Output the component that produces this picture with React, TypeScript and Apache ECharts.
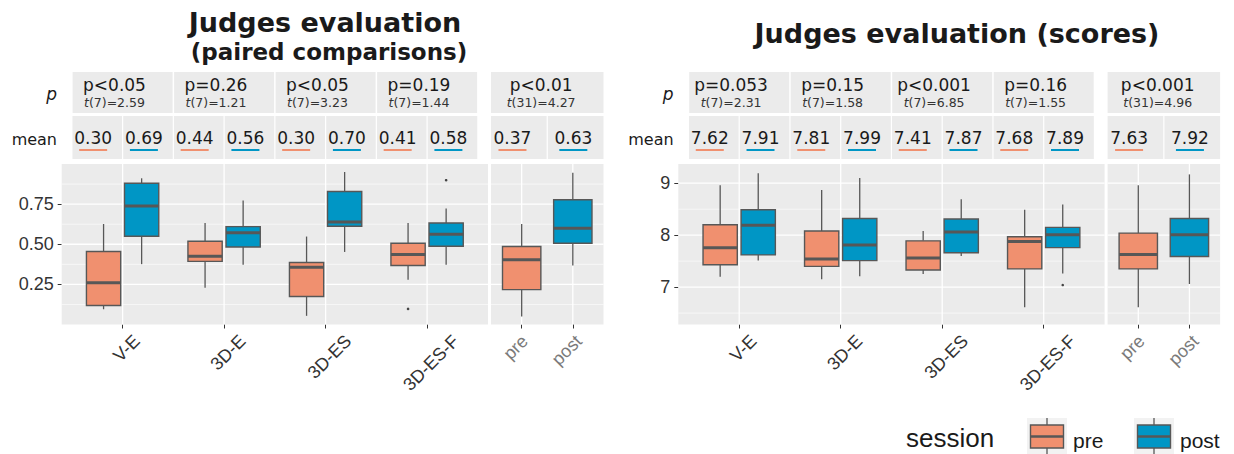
import React, { useEffect, useRef } from "react";
import * as echarts from "echarts";

// ---------------- data ----------------
const CATEGORIES = ["V-E", "3D-E", "3D-ES", "3D-ES-F"];
const SESSIONS = ["pre", "post"];
const SESSION_COLORS = ["#F0906F", "#0096C5"];

// five-number summaries: [lower whisker, Q1, median, Q3, upper whisker]
const PAIRED_PRE = [
  [0.095, 0.118, 0.26, 0.455, 0.626],
  [0.229, 0.393, 0.426, 0.519, 0.632],
  [0.054, 0.174, 0.357, 0.386, 0.548],
  [0.279, 0.368, 0.436, 0.506, 0.632],
];
const PAIRED_POST = [
  [0.376, 0.55, 0.738, 0.88, 0.911],
  [0.372, 0.483, 0.572, 0.61, 0.773],
  [0.452, 0.612, 0.638, 0.829, 0.95],
  [0.372, 0.488, 0.562, 0.632, 0.723],
];
const PAIRED_POOLED = [
  [0.05, 0.217, 0.403, 0.486, 0.626],
  [0.368, 0.506, 0.599, 0.777, 0.946],
];
const PAIRED_OUTLIERS: [string, string, number][] = [
  ["3D-ES-F", "pre", 0.097],
  ["3D-ES-F", "post", 0.899],
];
const PAIRED_P = ["p<0.05", "p=0.26", "p<0.05", "p=0.19"];
const PAIRED_T = ["t(7)=2.59", "t(7)=1.21", "t(7)=3.23", "t(7)=1.44"];
const PAIRED_POOLED_P = "p<0.01";
const PAIRED_POOLED_T = "t(31)=4.27";
const PAIRED_MEAN_PRE = [0.3, 0.44, 0.3, 0.41];
const PAIRED_MEAN_POST = [0.69, 0.56, 0.7, 0.58];
const PAIRED_POOLED_MEAN = [0.37, 0.63];
const PAIRED_Y_RANGE = [0, 1];
const PAIRED_BREAKS = [0.25, 0.5, 0.75];
const PAIRED_MINOR = [0.125, 0.375, 0.625, 0.875];

const SCORE_PRE = [
  [7.2, 7.43, 7.76, 8.2, 8.96],
  [7.15, 7.4, 7.54, 8.08, 8.87],
  [7.25, 7.33, 7.56, 7.89, 8.08],
  [6.61, 7.35, 7.88, 7.97, 8.49],
];
const SCORE_POST = [
  [7.51, 7.62, 8.19, 8.49, 9.19],
  [7.21, 7.51, 7.81, 8.32, 9.1],
  [7.6, 7.66, 8.06, 8.31, 8.69],
  [7.26, 7.76, 8.01, 8.15, 8.59],
];
const SCORE_POOLED = [
  [6.61, 7.35, 7.63, 8.04, 8.96],
  [7.06, 7.59, 8.01, 8.32, 9.17],
];
const SCORE_OUTLIERS: [string, string, number][] = [["3D-ES-F", "post", 7.04]];
const SCORE_P = ["p=0.053", "p=0.15", "p<0.001", "p=0.16"];
const SCORE_T = ["t(7)=2.31", "t(7)=1.58", "t(7)=6.85", "t(7)=1.55"];
const SCORE_POOLED_P = "p<0.001";
const SCORE_POOLED_T = "t(31)=4.96";
const SCORE_MEAN_PRE = [7.62, 7.81, 7.41, 7.68];
const SCORE_MEAN_POST = [7.91, 7.99, 7.87, 7.89];
const SCORE_POOLED_MEAN = [7.63, 7.92];
const SCORE_Y_RANGE = [6.28, 9.37];
const SCORE_BREAKS = [7, 8, 9];
const SCORE_MINOR = [6.5, 7.5, 8.5];

// ---------------- layout & style ----------------
const LAYOUT = {
  top: 164,
  height: 160.5,
  mainLeft: 61.7,
  mainWidth: 426.3,
  pooledLeft: 491,
  pooledWidth: 112.5,
  panelShift: 616.6,
};
const MAIN_X = [0.4, 4.6];
const POOLED_X = [0.4, 2.6];
const DODGE = 0.1875;
const BOX_W_MAIN = 0.3375;
const BOX_W_POOLED = 0.75;
const PANEL_BG = "#EBEBEB";
const OUTLINE = "#575757";
const STRIP_FONT = "DejaVu Sans";
const AXIS_FONT = "Liberation Sans";

let measureCtx: CanvasRenderingContext2D | null = null;
function textWidth(text: string, font: string): number {
  if (!measureCtx) measureCtx = document.createElement("canvas").getContext("2d");
  if (!measureCtx) return text.length * 9;
  measureCtx.font = font;
  return measureCtx.measureText(text).width;
}

function boxRenderer(boxW: number) {
  return (params: any, api: any) => {
    const x = api.value(0);
    const s = api.value(6);
    const half = api.size([boxW, 0])[0] / 2;
    const cx = api.coord([x, api.value(1)])[0];
    const yLo = api.coord([x, api.value(1)])[1];
    const yQ1 = api.coord([x, api.value(2)])[1];
    const yMd = api.coord([x, api.value(3)])[1];
    const yQ3 = api.coord([x, api.value(4)])[1];
    const yHi = api.coord([x, api.value(5)])[1];
    const line = { stroke: OUTLINE, lineWidth: 1.3 };
    return {
      type: "group",
      children: [
        { type: "line", shape: { x1: cx, y1: yHi, x2: cx, y2: yQ3 }, style: line },
        { type: "line", shape: { x1: cx, y1: yQ1, x2: cx, y2: yLo }, style: line },
        {
          type: "rect",
          shape: { x: cx - half, y: yQ3, width: 2 * half, height: yQ1 - yQ3 },
          style: { fill: SESSION_COLORS[s], stroke: OUTLINE, lineWidth: 1.4 },
        },
        {
          type: "line",
          shape: { x1: cx - half, y1: yMd, x2: cx + half, y2: yMd },
          style: { stroke: OUTLINE, lineWidth: 3 },
        },
      ],
    };
  };
}

function tRich(t: string) {
  return "{it|t}" + t.slice(1);
}

function buildOption() {
  const grid: any[] = [];
  const xAxis: any[] = [];
  const yAxis: any[] = [];
  const series: any[] = [];

  const panels = [
    {
      shift: 0,
      yRange: PAIRED_Y_RANGE,
      major: PAIRED_BREAKS,
      minor: PAIRED_MINOR,
      fmt: (v: number) => v.toFixed(2),
      pre: PAIRED_PRE,
      post: PAIRED_POST,
      pooled: PAIRED_POOLED,
      outliers: PAIRED_OUTLIERS,
      p: PAIRED_P,
      t: PAIRED_T,
      pooledP: PAIRED_POOLED_P,
      pooledT: PAIRED_POOLED_T,
      meanPre: PAIRED_MEAN_PRE,
      meanPost: PAIRED_MEAN_POST,
      pooledMean: PAIRED_POOLED_MEAN,
      meanFmt: (v: number) => v.toFixed(2),
    },
    {
      shift: LAYOUT.panelShift,
      yRange: SCORE_Y_RANGE,
      major: SCORE_BREAKS,
      minor: SCORE_MINOR,
      fmt: (v: number) => String(v),
      pre: SCORE_PRE,
      post: SCORE_POST,
      pooled: SCORE_POOLED,
      outliers: SCORE_OUTLIERS,
      p: SCORE_P,
      t: SCORE_T,
      pooledP: SCORE_POOLED_P,
      pooledT: SCORE_POOLED_T,
      meanPre: SCORE_MEAN_PRE,
      meanPost: SCORE_MEAN_POST,
      pooledMean: SCORE_POOLED_MEAN,
      meanFmt: (v: number) => v.toFixed(2),
    },
  ];

  panels.forEach((pnl) => {
    const facets = [
      {
        left: LAYOUT.mainLeft + pnl.shift,
        width: LAYOUT.mainWidth,
        xr: MAIN_X,
        labels: CATEGORIES,
        labelColor: "#333333",
        labelDx: 4,
        pooled: false,
      },
      {
        left: LAYOUT.pooledLeft + pnl.shift,
        width: LAYOUT.pooledWidth,
        xr: POOLED_X,
        labels: SESSIONS,
        labelColor: "#7A7A7A",
        labelDx: -6,
        pooled: true,
      },
    ];
    facets.forEach((f) => {
      const g = grid.length;
      const [xMin, xMax] = f.xr;
      const [yMin, yMax] = pnl.yRange;
      const positions = f.labels.map((_, i) => i + 1);
      grid.push({
        left: f.left,
        top: LAYOUT.top,
        width: f.width,
        height: LAYOUT.height,
        show: true,
        backgroundColor: PANEL_BG,
        borderWidth: 0,
        containLabel: false,
        outerBoundsMode: "none",
      });
      xAxis.push({
        type: "value",
        gridIndex: g,
        min: xMin,
        max: xMax,
        axisLine: { show: false },
        axisTick: {
          show: true,
          length: 4,
          customValues: positions,
          lineStyle: { color: "#333333", width: 1 },
        },
        axisLabel: { show: false },
        splitLine: { show: false },
      });
      yAxis.push({
        type: "value",
        gridIndex: g,
        min: yMin,
        max: yMax,
        axisLine: { show: false },
        axisTick: {
          show: !f.pooled,
          length: 4,
          customValues: pnl.major,
          lineStyle: { color: "#333333", width: 1 },
        },
        axisLabel: {
          show: !f.pooled,
          customValues: pnl.major,
          formatter: pnl.fmt,
          margin: 8,
          fontSize: 18,
          fontFamily: AXIS_FONT,
          color: "#333333",
        },
        splitLine: { show: false },
      });

      // panel gridlines
      const gridData = [
        ...pnl.minor.map((v) => [xMin, v, 0]),
        ...pnl.major.map((v) => [xMin, v, 1]),
        ...positions.map((x) => [x, yMin, 2]),
      ];
      series.push({
        type: "custom",
        xAxisIndex: g,
        yAxisIndex: g,
        z: 1,
        silent: true,
        encode: { x: 0, y: 1 },
        data: gridData,
        renderItem: (params: any, api: any) => {
          const cs = params.coordSys;
          const kind = api.value(2);
          const pt = api.coord([api.value(0), api.value(1)]);
          if (kind === 2) {
            return {
              type: "line",
              shape: { x1: pt[0], y1: cs.y, x2: pt[0], y2: cs.y + cs.height },
              style: { stroke: "#FFFFFF", lineWidth: 1.3 },
            };
          }
          return {
            type: "line",
            shape: { x1: cs.x, y1: pt[1], x2: cs.x + cs.width, y2: pt[1] },
            style: { stroke: "#FFFFFF", lineWidth: kind === 1 ? 1.3 : 0.6 },
          };
        },
      });

      // boxes
      const boxData: number[][] = [];
      if (f.pooled) {
        pnl.pooled.forEach((q, s) => boxData.push([s + 1, ...q, s]));
      } else {
        CATEGORIES.forEach((_, i) => {
          boxData.push([i + 1 - DODGE, ...pnl.pre[i], 0]);
          boxData.push([i + 1 + DODGE, ...pnl.post[i], 1]);
        });
      }
      series.push({
        type: "custom",
        name: "box",
        xAxisIndex: g,
        yAxisIndex: g,
        z: 3,
        encode: { x: 0, y: [1, 2, 3, 4, 5] },
        data: boxData,
        renderItem: boxRenderer(f.pooled ? BOX_W_POOLED : BOX_W_MAIN),
      });

      // outliers
      if (!f.pooled) {
        series.push({
          type: "scatter",
          xAxisIndex: g,
          yAxisIndex: g,
          z: 4,
          symbolSize: 2.6,
          itemStyle: { color: "#1A1A1A" },
          data: pnl.outliers.map(([c, s, v]) => [
            CATEGORIES.indexOf(c) + 1 + (SESSIONS.indexOf(s) === 0 ? -DODGE : DODGE),
            v,
          ]),
        });
      }

      // p / t strip
      const pTexts = f.pooled ? [pnl.pooledP] : pnl.p;
      const tTexts = f.pooled ? [pnl.pooledT] : pnl.t;
      const pData = f.pooled
        ? [[1.5, xMin, xMax]]
        : positions.map((k) => [k, Math.max(k - 0.5, xMin), Math.min(k + 0.5, xMax)]);
      const pDx = f.pooled ? -0.12 : -0.08;
      series.push({
        type: "custom",
        xAxisIndex: g,
        yAxisIndex: g,
        z: 2,
        silent: true,
        clip: false,
        encode: { x: [0, 1, 2] },
        data: pData,
        renderItem: (params: any, api: any) => {
          const cs = params.coordSys;
          const i = params.dataIndex;
          let x0 = api.coord([api.value(1), yMin])[0];
          let x1 = api.coord([api.value(2), yMin])[0];
          if (x0 > cs.x + 0.5) x0 += 0.75;
          if (x1 < cs.x + cs.width - 0.5) x1 -= 0.75;
          const tx = api.coord([api.value(0) + pDx, yMin])[0];
          return {
            type: "group",
            children: [
              {
                type: "rect",
                shape: { x: x0, y: cs.y - 92, width: x1 - x0, height: 41 },
                style: { fill: PANEL_BG },
              },
              {
                type: "text",
                x: tx,
                y: cs.y - 79,
                style: {
                  text: pTexts[i],
                  fontSize: 17,
                  fontFamily: STRIP_FONT,
                  fill: "#1A1A1A",
                  align: "center",
                  verticalAlign: "middle",
                },
              },
              {
                type: "text",
                x: tx,
                y: cs.y - 61.5,
                style: {
                  text: tRich(tTexts[i]),
                  fontSize: 12.5,
                  fontFamily: STRIP_FONT,
                  fill: "#333333",
                  align: "center",
                  verticalAlign: "middle",
                  rich: {
                    it: {
                      fontSize: 12.5,
                      fontFamily: STRIP_FONT,
                      fontStyle: "italic",
                      fill: "#333333",
                    },
                  },
                },
              },
            ],
          };
        },
      });

      // mean strip: [text x, cell start, cell end, session, mean]
      const meanData: number[][] = [];
      if (f.pooled) {
        meanData.push([1 - 0.18, xMin, 1.5, 0, pnl.pooledMean[0]]);
        meanData.push([2 + 0.01, 1.5, xMax, 1, pnl.pooledMean[1]]);
      } else {
        positions.forEach((k, i) => {
          meanData.push([k - 0.29, Math.max(k - 0.5, xMin), k, 0, pnl.meanPre[i]]);
          meanData.push([k + 0.21, k, Math.min(k + 0.5, xMax), 1, pnl.meanPost[i]]);
        });
      }
      series.push({
        type: "custom",
        xAxisIndex: g,
        yAxisIndex: g,
        z: 2,
        silent: true,
        clip: false,
        encode: { x: [0, 1, 2] },
        data: meanData,
        renderItem: (params: any, api: any) => {
          const cs = params.coordSys;
          let x0 = api.coord([api.value(1), yMin])[0];
          let x1 = api.coord([api.value(2), yMin])[0];
          if (x0 > cs.x + 0.5) x0 += 0.6;
          if (x1 < cs.x + cs.width - 0.5) x1 -= 0.6;
          const tx = api.coord([api.value(0), yMin])[0];
          const s = api.value(3);
          return {
            type: "group",
            children: [
              {
                type: "rect",
                shape: { x: x0, y: cs.y - 48, width: x1 - x0, height: 43 },
                style: { fill: PANEL_BG },
              },
              {
                type: "text",
                x: tx,
                y: cs.y - 26,
                style: {
                  text: pnl.meanFmt(api.value(4)),
                  fontSize: 17,
                  fontFamily: STRIP_FONT,
                  fill: "#1A1A1A",
                  align: "center",
                  verticalAlign: "middle",
                },
              },
              {
                type: "line",
                shape: { x1: tx - 14, y1: cs.y - 14, x2: tx + 14, y2: cs.y - 14 },
                style: { stroke: SESSION_COLORS[s], lineWidth: 2 },
              },
            ],
          };
        },
      });

      // rotated category labels
      const fs = 18;
      const font = `${fs}px "${AXIS_FONT}"`;
      series.push({
        type: "custom",
        xAxisIndex: g,
        yAxisIndex: g,
        z: 2,
        silent: true,
        clip: false,
        encode: { x: 0 },
        data: positions.map((k) => [k]),
        renderItem: (params: any, api: any) => {
          const cs = params.coordSys;
          const label = f.labels[params.dataIndex];
          const L = textWidth(label, font);
          const tx = api.coord([api.value(0), yMin])[0];
          const top = cs.y + cs.height + 9;
          return {
            type: "text",
            x: tx + f.labelDx,
            y: top + 0.354 * (L + 0.72 * fs),
            rotation: Math.PI / 4,
            style: {
              text: label,
              fontSize: fs,
              fontFamily: AXIS_FONT,
              fill: f.labelColor,
              align: "center",
              verticalAlign: "middle",
            },
          };
        },
      });
    });
  });

  // titles, strip row names and legend
  const graphic: any[] = [];
  const titleStyle = {
    fontFamily: STRIP_FONT,
    fontWeight: "bold",
    fill: "#1A1A1A",
    align: "center",
    verticalAlign: "middle",
  };
  graphic.push(
    { type: "text", x: 325, y: 22.5, style: { ...titleStyle, text: "Judges evaluation", fontSize: 27 } },
    { type: "text", x: 329, y: 51.5, style: { ...titleStyle, text: "(paired comparisons)", fontSize: 23 } },
    { type: "text", x: 957, y: 33, style: { ...titleStyle, text: "Judges evaluation (scores)", fontSize: 27 } }
  );
  [0, LAYOUT.panelShift].forEach((shift) => {
    graphic.push(
      {
        type: "text",
        x: 57 + shift,
        y: 93.5,
        style: {
          text: "p",
          fontSize: 17,
          fontStyle: "italic",
          fontFamily: STRIP_FONT,
          fill: "#1A1A1A",
          align: "right",
          verticalAlign: "middle",
        },
      },
      {
        type: "text",
        x: 57 + shift,
        y: 139,
        style: {
          text: "mean",
          fontSize: 16,
          fontFamily: STRIP_FONT,
          fill: "#1A1A1A",
          align: "right",
          verticalAlign: "middle",
        },
      }
    );
  });

  graphic.push({
    type: "text",
    x: 906,
    y: 438,
    style: {
      text: "session",
      fontSize: 26,
      fontFamily: AXIS_FONT,
      fill: "#1A1A1A",
      verticalAlign: "middle",
    },
  });
  const keyLefts = [1027, 1134];
  SESSIONS.forEach((s, i) => {
    const kx = keyLefts[i];
    graphic.push(
      { type: "rect", shape: { x: kx, y: 418, width: 40, height: 40 }, style: { fill: "#F2F2F2" } },
      {
        type: "line",
        shape: { x1: kx + 20, y1: 418, x2: kx + 20, y2: 458 },
        style: { stroke: OUTLINE, lineWidth: 1.3 },
      },
      {
        type: "rect",
        shape: { x: kx + 3.5, y: 425, width: 33, height: 23 },
        style: { fill: SESSION_COLORS[i], stroke: OUTLINE, lineWidth: 1.4 },
      },
      {
        type: "line",
        shape: { x1: kx + 3.5, y1: 436.5, x2: kx + 36.5, y2: 436.5 },
        style: { stroke: OUTLINE, lineWidth: 2.5 },
      },
      {
        type: "text",
        x: kx + 46,
        y: 440,
        style: {
          text: s,
          fontSize: 21,
          fontFamily: AXIS_FONT,
          fill: "#1A1A1A",
          verticalAlign: "middle",
        },
      }
    );
  });

  return {
    animation: false,
    backgroundColor: "#FFFFFF",
    grid,
    xAxis,
    yAxis,
    series,
    graphic,
  };
}

export default function App() {
  const ref = useRef<HTMLDivElement>(null);
  useEffect(() => {
    if (!ref.current) return;
    const chart = echarts.init(ref.current, null, { renderer: "svg" });
    chart.setOption(buildOption() as any);
    return () => chart.dispose();
  }, []);
  return (
    <div
      ref={ref}
      style={{ position: "fixed", left: 0, top: 0, width: 1234, height: 454, background: "#FFFFFF" }}
    />
  );
}
